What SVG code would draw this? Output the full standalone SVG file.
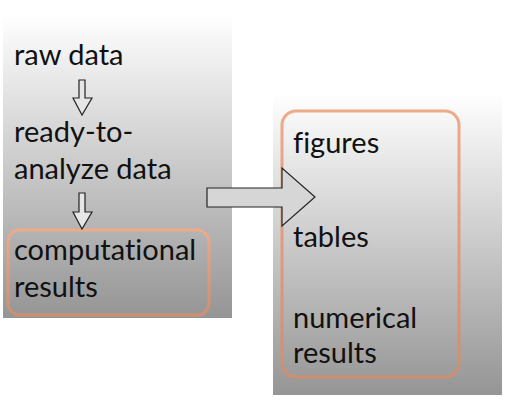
<svg xmlns="http://www.w3.org/2000/svg" width="506" height="400" viewBox="0 0 506 400">
<defs>
<linearGradient id="g" x1="0" y1="0" x2="0" y2="1">
<stop offset="0" stop-color="#ffffff"/>
<stop offset="1" stop-color="#959595"/>
</linearGradient>
<linearGradient id="o" x1="0" y1="0" x2="0" y2="1">
<stop offset="0" stop-color="#eeab88"/>
<stop offset="1" stop-color="#d08e70"/>
</linearGradient>
</defs>
<style>
text{font-family:Lato,"Liberation Sans",sans-serif;font-size:29px;fill:#111;font-variant-ligatures:none}
.panel{fill:url(#g)}
.ring{fill:none;stroke:url(#o);stroke-width:3}
.arr{fill:#e6e6e6;stroke:#222;stroke-width:1.2}
</style>
<g id="left-panel">
<rect class="panel" x="3" y="14" width="229" height="304"/>
</g>
<g id="right-panel">
<rect class="panel" x="273" y="93" width="229" height="302"/>
</g>
<g id="raw-data"><text x="14" y="65">raw data</text></g>
<g id="ready-data"><text x="14" y="142">ready-to-</text><text x="14" y="179">analyze data</text></g>
<g id="computational-results">
<rect class="ring" x="8" y="230" width="201" height="85" rx="12"/>
<text x="14" y="260">computational</text><text x="14" y="297">results</text>
</g>
<g id="outputs">
<rect class="ring" x="282" y="111" width="177" height="266" rx="14"/>
<text x="293" y="153">figures</text>
<text x="293" y="247">tables</text>
<text x="293" y="328">numerical</text>
<text x="293" y="363">results</text>
</g>
<g id="connectors">
<polygon class="arr" points="79,80 85,80 85,98 92,98 82,115 73,98 79,98"/>
<polygon class="arr" points="79,193 85,193 85,212 92,212 82,229 73,212 79,212"/>
<polygon class="arr" points="207,188 282,188 282,168 315,197 282,226 282,207 207,207" style="fill:#d6d6d6"/>
</g>
</svg>
